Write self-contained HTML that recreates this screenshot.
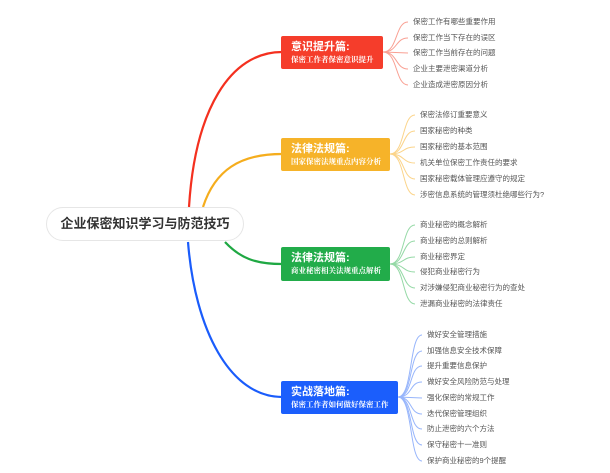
<!DOCTYPE html>
<html><head><meta charset="utf-8"><style>
body{margin:0;width:610px;height:473px;background:#fff;position:relative;overflow:hidden;font-family:"Liberation Sans","Noto Sans CJK SC",sans-serif}
.root{position:absolute;left:46px;top:207px;width:198px;height:34px;border:1px solid #e6e6e6;border-radius:18px;background:#fff;box-sizing:border-box;font-size:13px;font-weight:bold;color:#333;text-align:center;line-height:32px}
.box{position:absolute;border-radius:2px;color:#fff;box-sizing:border-box;padding:4px 0 0 10px}
.box b{display:block;font-size:11px;line-height:14px}
.box span{display:block;font-size:7.5px;font-weight:bold;line-height:11px;font-family:"Noto Serif CJK SC",serif}
.l{position:absolute;font-size:7.5px;color:#555;line-height:10px;white-space:nowrap}
</style></head><body>
<svg width="610" height="473" style="position:absolute;left:0;top:0" fill="none">
<path d="M189 207 C195 110,230 52,282 52" stroke="#f4301f" stroke-width="2.2"/>
<path d="M203 207 C215 170,240 154,282 154" stroke="#f5ad1d" stroke-width="2.2"/>
<path d="M225 242 C240 258,255 264,282 264" stroke="#1fa843" stroke-width="2.2"/>
<path d="M188 242 C195 330,230 397,282 397" stroke="#1a5cfb" stroke-width="2.2"/>
<g stroke="#f9a093" stroke-width="1">
<path d="M383 52 C398 52,395 22,408 22"/><path d="M383 52 C398 52,395 38,408 38"/><path d="M383 52 L408 53"/><path d="M383 52 C398 52,395 69,408 69"/><path d="M383 52 C398 52,395 85,408 85"/></g>
<g stroke="#fbd48a" stroke-width="1">
<path d="M390 154 C405 154,402 115,415 115"/><path d="M390 154 C405 154,402 131,415 131"/><path d="M390 154 C405 154,402 147,415 147"/><path d="M390 154 C405 154,402 163,415 163"/><path d="M390 154 C405 154,402 179,415 179"/><path d="M390 154 C405 154,402 195,415 195"/></g>
<g stroke="#95d9a6" stroke-width="1">
<path d="M390 264 C405 264,402 225,415 225"/><path d="M390 264 C405 264,402 241,415 241"/><path d="M390 264 C405 264,402 257,415 257"/><path d="M390 264 C405 264,402 272,415 272"/><path d="M390 264 C405 264,402 288,415 288"/><path d="M390 264 C405 264,402 304,415 304"/></g>
<g stroke="#97b5fb" stroke-width="1">
<path d="M398 397 C413 397,409 335,422 335"/><path d="M398 397 C413 397,409 351,422 351"/><path d="M398 397 C413 397,409 366,422 366"/><path d="M398 397 C413 397,409 382,422 382"/><path d="M398 397 L422 398"/><path d="M398 397 C413 397,409 414,422 414"/><path d="M398 397 C413 397,409 429,422 429"/><path d="M398 397 C413 397,409 445,422 445"/><path d="M398 397 C413 397,409 461,422 461"/></g>
</svg>
<div class="root">企业保密知识学习与防范技巧</div>
<div class="box" style="left:281px;top:36px;width:102px;height:33px;background:#f53d2b"><b>意识提升篇:</b><span>保密工作者保密意识提升</span></div>
<div class="box" style="left:281px;top:138px;width:109px;height:33px;background:#f6b329"><b>法律法规篇:</b><span>国家保密法规重点内容分析</span></div>
<div class="box" style="left:281px;top:247px;width:109px;height:34px;background:#22ac4a"><b>法律法规篇:</b><span>商业秘密相关法规重点解析</span></div>
<div class="box" style="left:281px;top:381px;width:117px;height:33px;background:#1b5efc"><b>实战落地篇:</b><span>保密工作者如何做好保密工作</span></div>
<div class="l" style="left:413px;top:17px">保密工作有哪些重要作用</div>
<div class="l" style="left:413px;top:33px">保密工作当下存在的误区</div>
<div class="l" style="left:413px;top:48px">保密工作当前存在的问题</div>
<div class="l" style="left:413px;top:64px">企业主要泄密渠道分析</div>
<div class="l" style="left:413px;top:80px">企业造成泄密原因分析</div>
<div class="l" style="left:420px;top:110px">保密法修订重要意义</div>
<div class="l" style="left:420px;top:126px">国家秘密的种类</div>
<div class="l" style="left:420px;top:142px">国家秘密的基本范围</div>
<div class="l" style="left:420px;top:158px">机关单位保密工作责任的要求</div>
<div class="l" style="left:420px;top:174px">国家秘密载体管理应遵守的规定</div>
<div class="l" style="left:420px;top:190px">涉密信息系统的管理须杜绝哪些行为?</div>
<div class="l" style="left:420px;top:220px">商业秘密的概念解析</div>
<div class="l" style="left:420px;top:236px">商业秘密的总则解析</div>
<div class="l" style="left:420px;top:252px">商业秘密界定</div>
<div class="l" style="left:420px;top:267px">侵犯商业秘密行为</div>
<div class="l" style="left:420px;top:283px">对涉嫌侵犯商业秘密行为的查处</div>
<div class="l" style="left:420px;top:299px">泄漏商业秘密的法律责任</div>
<div class="l" style="left:427px;top:330px">做好安全管理措施</div>
<div class="l" style="left:427px;top:346px">加强信息安全技术保障</div>
<div class="l" style="left:427px;top:361px">提升重要信息保护</div>
<div class="l" style="left:427px;top:377px">做好安全风险防范与处理</div>
<div class="l" style="left:427px;top:393px">强化保密的常规工作</div>
<div class="l" style="left:427px;top:409px">迭代保密管理组织</div>
<div class="l" style="left:427px;top:424px">防止泄密的六个方法</div>
<div class="l" style="left:427px;top:440px">保守秘密十一准则</div>
<div class="l" style="left:427px;top:456px">保护商业秘密的9个提醒</div>
</body></html>
